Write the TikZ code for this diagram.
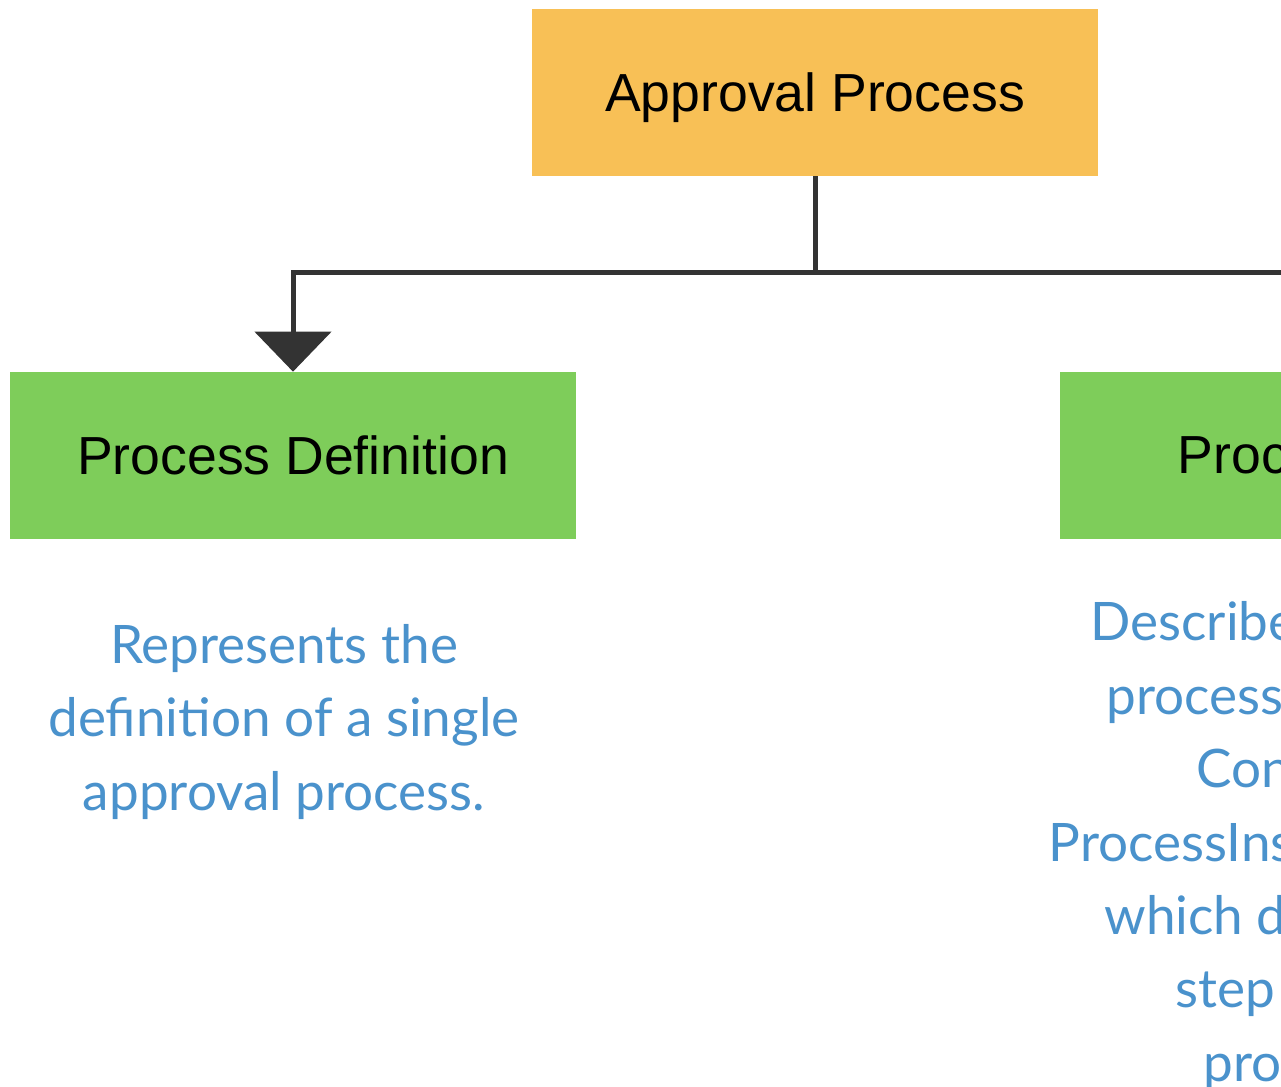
\documentclass[tikz,border=0pt]{standalone}
\usepackage{fontspec}
\setmainfont{Liberation Sans}
\newfontfamily\descfont{Lato}
\usetikzlibrary{positioning,arrows.meta}
\definecolor{apporange}{RGB}{248,192,86}
\definecolor{defgreen}{RGB}{126,205,90}
\definecolor{linegray}{RGB}{51,51,51}
\definecolor{descblue}{RGB}{74,146,204}

\begin{document}
\begin{tikzpicture}[x=0.02cm, y=-0.02cm,
  box/.style={rectangle, minimum width=11.32cm, minimum height=3.34cm, inner sep=0pt, text depth=0pt, font=\fontsize{30.5}{36}\selectfont},
  desc/.style={text=descblue, align=center, inner sep=0pt, font=\descfont\fontsize{30.2}{41.8}\selectfont},
  link/.style={draw=linegray, line width=0.1cm}]
        \useasboundingbox (0,0) rectangle (1281,1086);
        \clip (0,0) rectangle (1281,1086);

        % Top
        \node[box, fill=apporange] (approval) at (815,92.5) {Approval Process};

        % Children
        \node[box, fill=defgreen] (procdef) at (293,455.5) {Process Definition};
        \node[box, fill=defgreen, minimum width=12.96cm, right=9.66cm of procdef] (procinst) {Process Instance};

        % Descriptions
        \node[desc, below=1.69cm of procdef, xshift=-0.18cm] (defdesc) {Represents the\\definition of a single\\approval process.};
        \node[desc, below=1.24cm of procinst, xshift=-1.7cm] (instdesc) {Describes a single\\process instance\\Contains\\ProcessInstanceSteps\\which describe a\\step in the\\process.};

        % Arrows
        \coordinate (split) at ([yshift=-1.92cm]approval.south);
        \draw[link] (approval.south) -- (split);
        \draw[link, -{Triangle[width=1.52cm, length=0.8cm]}] (split) -| (procdef.north);
        \draw[link, -{Triangle[width=1.52cm, length=0.8cm]}] (split) -| (procinst.north);
    \end{tikzpicture}
\end{document}
